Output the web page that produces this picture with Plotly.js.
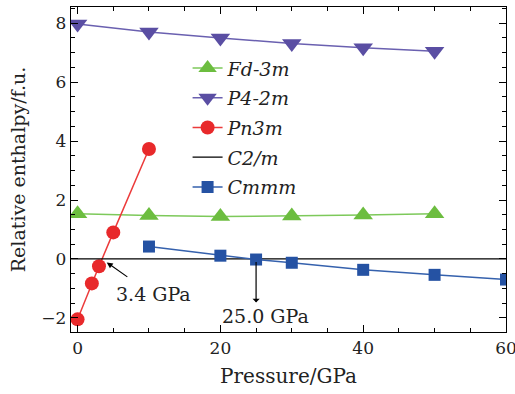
<!DOCTYPE html>
<html>
<head>
<meta charset="utf-8">
<script src="https://cdn.plot.ly/plotly-3.0.1.min.js"></script>
<style>html,body{margin:0;padding:0;background:#fff;}#chart{width:515px;height:394px;}</style>
</head>
<body>
<div id="chart"></div>
<script>
// Pressure (GPa)
const pressFd = [0, 10, 20, 30, 40, 50];
const enthFd = [1.53, 1.47, 1.44, 1.46, 1.49, 1.53];

const pressP4 = [0, 10, 20, 30, 40, 50];
const enthP4 = [7.97, 7.70, 7.50, 7.31, 7.17, 7.05];

const pressPn = [0, 2, 3, 5, 10];
const enthPn = [-2.05, -0.83, -0.25, 0.90, 3.73];

const pressC2 = [-1, 60];
const enthC2 = [0, 0];

const pressCm = [10, 20, 25, 30, 40, 50, 60];
const enthCm = [0.42, 0.11, -0.02, -0.13, -0.37, -0.54, -0.70];

const seriesNames = ["Fd-3m", "P4-2m", "Pn3m", "C2/m", "Cmmm"];

const annotPress = [3.4, 25.0];
const annotLabels = ["3.4 GPa", "25.0 GPa"];

const FONT = "DejaVu Serif";
const legendName = n => "<i>" + n + "</i>";

const traces = [
  {x: pressFd, y: enthFd, name: legendName(seriesNames[0]), mode: "lines+markers", legendgroup: "a",
   line: {color: "#7dc95a", width: 1.5}, marker: {symbol: "triangle-up", size: 17, color: "#6cbd3f"}},
  {x: pressP4, y: enthP4, name: legendName(seriesNames[1]), mode: "lines+markers", legendgroup: "b",
   line: {color: "#6a60b0", width: 1.5}, marker: {symbol: "triangle-down", size: 17, color: "#5a4ea3"}},
  {x: pressPn, y: enthPn, name: legendName(seriesNames[2]), mode: "lines+markers", legendgroup: "c",
   line: {color: "#ec3b3b", width: 1.5}, marker: {symbol: "circle", size: 14, color: "#e8292b"}},
  {x: pressC2, y: enthC2, name: legendName(seriesNames[3]), mode: "lines", legendgroup: "d",
   line: {color: "#000000", width: 1.3}},
  {x: pressCm, y: enthCm, name: legendName(seriesNames[4]), mode: "lines+markers", legendgroup: "e",
   line: {color: "#3561ad", width: 1.5}, marker: {symbol: "square", size: 12, color: "#2552a3"}}
];

const axisCommon = {
  showline: true, linecolor: "#000", linewidth: 1.3, mirror: "allticks",
  ticks: "inside", ticklen: 7, tickwidth: 1, tickcolor: "#000",
  showgrid: false, zeroline: false, ticklabeloverflow: "allow",
  tickfont: {family: FONT, size: 17, color: "#222"}
};

const annFont = {family: FONT, size: 19, color: "#222"};

const layout = {
  width: 515, height: 394,
  margin: {l: 71, r: 9, t: 7, b: 62},
  paper_bgcolor: "#fff", plot_bgcolor: "#fff",
  showlegend: true,
  legend: {x: 0.268, y: 0.87, xanchor: "left", yanchor: "top", bgcolor: "rgba(0,0,0,0)",
           font: {family: FONT, size: 19, color: "#222"}, traceorder: "grouped", tracegroupgap: 2},
  xaxis: Object.assign({}, axisCommon, {
    range: [-0.92, 60.001], tickmode: "array", tickvals: [0, 20, 40, 60],
    minor: {dtick: 5, ticklen: 4, tickcolor: "#000", ticks: "inside"},
    title: {text: "Pressure/GPa", font: {family: FONT, size: 20, color: "#222"}, standoff: 12}
  }),
  yaxis: Object.assign({}, axisCommon, {
    range: [-2.48, 8.55], tickmode: "array", tickvals: [-2, 0, 2, 4, 6, 8],
    ticktext: ["\u22122", "0", "2", "4", "6", "8"],
    minor: {dtick: 0.5, ticklen: 4, tickcolor: "#000", ticks: "inside"},
    title: {text: "Relative enthalpy/f.u.", font: {family: FONT, size: 19, color: "#222"}, standoff: 10}
  }),
  annotations: [
    {x: annotPress[0], y: 0, xref: "x", yref: "y", text: "", showarrow: true,
     arrowhead: 2, arrowsize: 1, arrowwidth: 1.2, arrowcolor: "#000", ax: 27, ay: 19, standoff: 6},
    {x: annotPress[0], y: 0, xref: "x", yref: "y", text: annotLabels[0], showarrow: false,
     xshift: 52, yshift: -35, font: annFont},
    {x: annotPress[1], y: 0, xref: "x", yref: "y", text: "", showarrow: true, arrowside: "start",
     arrowhead: 2, arrowsize: 1, arrowwidth: 1.2, arrowcolor: "#000", ax: 0, ay: 45, standoff: 3},
    {x: annotPress[1], y: 0, xref: "x", yref: "y", text: annotLabels[1], showarrow: false,
     xshift: 9, yshift: -57, font: annFont}
  ]
};

Plotly.newPlot("chart", traces, layout, {displayModeBar: false, staticPlot: true});
</script>
</body>
</html>
